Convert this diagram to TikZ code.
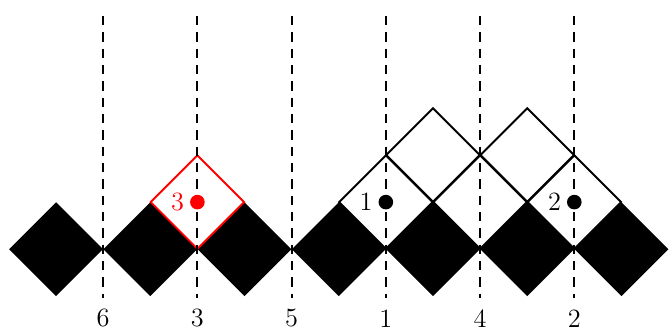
\documentclass[tikz,border=0pt]{standalone}
\usetikzlibrary{shapes.geometric}
\begin{document}
\begin{tikzpicture}[x=0.71cm,y=0.71cm,
  dia/.style={diamond,aspect=1,inner sep=0pt,minimum width=1.42cm,minimum height=1.42cm},
  blackdia/.style={dia,fill=black},
  opendia/.style={dia,draw=black,line width=0.8pt},
  reddia/.style={dia,draw=red,line width=0.8pt},
  guide/.style={line width=0.9pt,dash pattern=on 4pt off 3pt},
  dot/.style={circle,fill=#1,inner sep=0pt,minimum size=0.22cm},
  lab/.style={inner sep=0pt,font=\fontsize{11.3}{13}\selectfont}]
\useasboundingbox (-0.19,-1.72) rectangle (14.01,5.29);
% black row
\foreach \i/\x in {a/1,b/3,c/5,d/7,e/9,f/11,g/13}
  \node[blackdia] (B\i) at (\x,0) {};
% outlined diamonds
\node[opendia] (R8) at (8,1) {};
\node[opendia] (R10) at (10,1) {};
\node[opendia] (R12) at (12,1) {};
\node[opendia] (T9) at (9,2) {};
\node[opendia] (T11) at (11,2) {};
\node[reddia] (R4) at (4,1) {};
% dashed guides and labels
\foreach \x/\t in {2/6,4/3,6/5,8/1,10/4,12/2}{
  \coordinate (top\x) at (\x,4.95);
  \coordinate (bot\x) at (\x,-1.04);
  \draw[guide] (top\x) -- (bot\x);
  \node[lab] (L\x) at (\x,-1.47) {\t};
}
% dots
\node[dot=black] (D8) at (8,1) {};
\node[dot=black] (D12) at (12,1) {};
\node[dot=red] (D4) at (4,1) {};
\node[lab] (N8) at (7.58,1) {1};
\node[lab] (N12) at (11.58,1) {2};
\node[lab,text=red] (N4) at (3.58,1) {3};
\end{tikzpicture}
\end{document}
